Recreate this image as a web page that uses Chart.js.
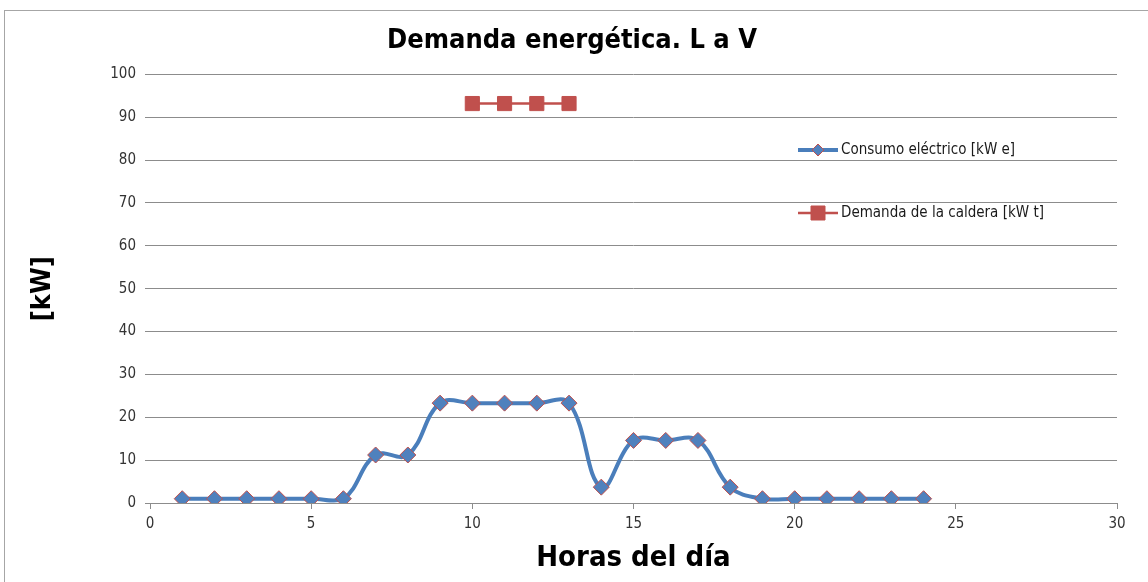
<!DOCTYPE html>
<html>
<head>
<meta charset="utf-8">
<script src="https://cdn.jsdelivr.net/npm/chart.js@4.4.0/dist/chart.umd.min.js"></script>
<style>
  html, body { margin: 0; padding: 0; background: #fff; }
  #wrap { width: 1148px; height: 582px; position: relative; }
</style>
</head>
<body>
<div id="wrap"><canvas id="myChart" width="1148" height="582"></canvas></div>
<script>
var horas = [1, 2, 3, 4, 5, 6, 7, 8, 9, 10, 11, 12, 13, 14, 15, 16, 17, 18, 19, 20, 21, 22, 23, 24];
var consumoElectrico = [1, 1, 1, 1, 1, 1, 11.2, 11.2, 23.3, 23.3, 23.3, 23.3, 23.3, 3.7, 14.6, 14.6, 14.6, 3.7, 1, 1, 1, 1, 1, 1];
var horasCaldera = [10, 11, 12, 13];
var demandaCaldera = [93.2, 93.2, 93.2, 93.2];
var tituloGrafico = 'Demanda energética. L a V';
var tituloX = 'Horas del día';
var tituloY = '[kW]';
var nombresSeries = ['Consumo eléctrico [kW e]', 'Demanda de la caldera [kW t]'];

var fuente = "'Liberation Sans Narrow', 'DejaVu Sans Condensed', 'Liberation Sans', sans-serif";
var gris = '#8c8c8c';

function puntos(xs, ys){
    var lista = [];
    for (var i = 0; i < xs.length; i++){
        lista.push({x: xs[i], y: ys[i]});
    }
    return lista;
}

// marco exterior y leyenda dentro del grafico
var marcoYLeyenda = {
    id: 'marcoYLeyenda',
    beforeDraw: function(chart){
        var ctx = chart.ctx;
        ctx.save();
        ctx.strokeStyle = '#a6a6a6';
        ctx.lineWidth = 1;
        ctx.strokeRect(4.5, 10.5, 1200, 700);
        ctx.restore();
    },
    afterDraw: function(chart){
        var ctx = chart.ctx;
        var filasY = [150, 213];
        ctx.save();
        chart.data.datasets.forEach(function(ds, i){
            var y = filasY[i];
            ctx.strokeStyle = ds.borderColor;
            ctx.lineWidth = ds.borderWidth;
            ctx.beginPath();
            ctx.moveTo(798, y);
            ctx.lineTo(838, y);
            ctx.stroke();
            ctx.fillStyle = ds.pointBackgroundColor;
            ctx.strokeStyle = ds.pointBorderColor;
            ctx.lineWidth = 1;
            ctx.beginPath();
            if (ds.pointStyle == 'rectRot'){
                ctx.moveTo(818, y - 6); ctx.lineTo(824, y); ctx.lineTo(818, y + 6); ctx.lineTo(812, y);
            } else {
                ctx.rect(811, y - 7, 14, 14);
            }
            ctx.closePath();
            ctx.fill();
            ctx.stroke();
            ctx.fillStyle = '#1a1a1a';
            ctx.font = '15px ' + fuente;
            ctx.textBaseline = 'middle';
            ctx.fillText(ds.label, 841, y);
        });
        ctx.restore();
    }
};

const ctx = document.getElementById('myChart').getContext('2d');
const myChart = new Chart(ctx, {
    type: 'line',
    data: {
        datasets: [{
            label: nombresSeries[0],
            data: puntos(horas, consumoElectrico),
            borderColor: '#4a7ebb',
            borderWidth: 4,
            tension: 0.4,
            pointStyle: 'rectRot',
            pointRadius: 8,
            pointBackgroundColor: '#4f81bd',
            pointBorderColor: '#c0504d',
            pointBorderWidth: 1
        }, {
            label: nombresSeries[1],
            data: puntos(horasCaldera, demandaCaldera),
            borderColor: '#c0504d',
            borderWidth: 2.5,
            tension: 0,
            pointStyle: 'rect',
            pointRadius: 10,
            pointBackgroundColor: '#c0504d',
            pointBorderColor: '#c0504d',
            pointBorderWidth: 1
        }]
    },
    options: {
        responsive: false,
        animation: false,
        layout: { padding: { top: 10, left: 27, right: 31, bottom: 6 } },
        plugins: {
            legend: { display: false },
            tooltip: { enabled: false },
            title: {
                display: true,
                text: tituloGrafico,
                color: '#000',
                font: { family: fuente, size: 27, weight: 'bold' },
                padding: { top: 15, bottom: 17 }
            }
        },
        scales: {
            x: {
                type: 'linear',
                min: 0,
                max: 30,
                ticks: { stepSize: 5, color: '#333', font: { family: fuente, size: 15 }, padding: 6 },
                grid: { drawOnChartArea: false, color: gris, tickLength: 6 },
                border: { color: gris, width: 1 },
                title: { display: true, text: tituloX, color: '#000', font: { family: fuente, size: 29, weight: 'bold' }, padding: { top: 2, bottom: 0 } },
                afterFit: function(scale){ scale.height = 582 - 503 - 6; }
            },
            y: {
                min: 0,
                max: 100,
                ticks: { stepSize: 10, color: '#333', font: { family: fuente, size: 15 }, padding: 9 },
                grid: { color: gris, tickLength: 5 },
                border: { display: false },
                title: { display: true, text: tituloY, color: '#000', font: { family: fuente, size: 27, weight: 'bold' }, padding: { top: 0, bottom: 0 } },
                afterFit: function(scale){ scale.width = 150 - 27; }
            }
        }
    },
    plugins: [marcoYLeyenda]
});
</script>
</body>
</html>
